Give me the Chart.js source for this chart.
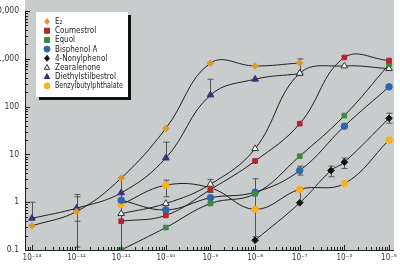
<!DOCTYPE html>
<html>
<head>
<meta charset="utf-8">
<script src="https://cdn.jsdelivr.net/npm/chart.js@4/dist/chart.umd.min.js"></script>
<style>
  html, body { margin: 0; padding: 0; background: #ffffff; }
  #wrap { width: 400px; height: 264px; }
</style>
</head>
<body>
<div id="wrap"><canvas id="chart" width="400" height="264"></canvas></div>
<script>
// concentrations (M) and responses
const concFull = [1e-11, 1e-10, 1e-9, 1e-8, 1e-7, 1e-6, 1e-5];
const concE2 = [1e-13, 1e-12, 1e-11, 1e-10, 1e-9, 1e-8, 1e-7];
const concNP = [1e-8, 1e-7, 5e-7, 1e-6, 1e-5];

const valE2 = [0.32, 0.64, 3.2, 35, 820, 710, 820];
const valDES = [0.46, 0.75, 1.57, 8.4, 175, 375, 490];
const valCoumestrol = [0.40, 0.53, 1.84, 7.3, 44, 1070, 925];
const valEquol = [0.1, 0.295, 0.94, 1.5, 9.2, 65, 770];
const valBPA = [1.1, 0.69, 1.24, 1.62, 4.6, 39, 260];
const valNP = [0.16, 0.97, 4.6, 6.9, 57];
const valZea = [0.575, 0.94, 2.38, 13.2, 500, 710, 625];
const valBBP = [0.9, 2.27, 2.0, 0.71, 1.86, 2.45, 20];

// error bars: position, low, high
const errX = [1e-13, 1e-12, 1e-12, 1e-11, 1e-10, 1e-10, 1e-9, 1e-9, 1e-8, 1e-7, 1e-7, 1e-7, 5e-7, 1e-6, 1e-5];
const errLow = [0.46, 0.115, 0.4, 0.1, 8.4, 1.3, 175, 1.6, 0.19, 500, 3.7, 1.0, 3.4, 5.1, 45];
const errHigh = [1.0, 1.46, 1.3, 3.2, 18, 2.9, 375, 3.0, 3.1, 1000, 5.7, 1.9, 5.7, 8.4, 73];

const xLabels = ['10\u207B\u00B9\u00B3', '10\u207B\u00B9\u00B2', '10\u207B\u00B9\u00B9', '10\u207B\u00B9\u2070', '10\u207B\u2079',
                 '10\u207B\u2078', '10\u207B\u2077', '10\u207B\u2076', '10\u207B\u2075'];
const xTicks = [1e-13, 1e-12, 1e-11, 1e-10, 1e-9, 1e-8, 1e-7, 1e-6, 1e-5];
const yTicks = [0.1, 1, 10, 100, 1000, 10000];
const yLabels = ['0.1', '1', '10', '100', '1,000', '10,000'];

const FONT = "'DejaVu Sans', sans-serif";
const LINE = '#1e1e1e';

function pts(xs, ys) {
    return xs.map((x, i) => ({ x: x, y: ys[i] }));
}

function series(label, xs, ys, style, fill, border) {
    return {
        label: label,
        data: pts(xs, ys),
        borderColor: LINE,
        borderWidth: 1,
        tension: 0.4,
        pointStyle: style,
        pointRadius: style === 'triangle' ? 3.8 : 3.3,
        pointBackgroundColor: fill,
        pointBorderColor: border || fill,
        pointBorderWidth: 1
    };
}

const datasets = [
    series('E\u2082', concE2, valE2, 'rectRot', '#d99a2b'),
    series('Coumestrol', concFull, valCoumestrol, 'rect', '#b3262b'),
    series('Equol', concFull, valEquol, 'rect', '#3b8a3b'),
    series('Bisphenol A', concFull, valBPA, 'circle', '#2c68ad'),
    series('4-Nonylphenol', concNP, valNP, 'rectRot', '#111111'),
    series('Zearalenone', concFull, valZea, 'triangle', '#ffffff', '#333333'),
    series('Diethylstilbestrol', concE2, valDES, 'triangle', '#3a2f78'),
    series('Benzylbutylphthalate', concFull, valBBP, 'circle', '#f4b122')
];

function drawMarker(ctx, style, x, y, r, fill, border) {
    ctx.save();
    ctx.fillStyle = fill;
    ctx.strokeStyle = border;
    ctx.lineWidth = 1;
    ctx.beginPath();
    if (style === 'circle') {
        ctx.arc(x, y, r, 0, Math.PI * 2);
    } else if (style === 'rect') {
        ctx.rect(x - r * 0.85, y - r * 0.85, r * 1.7, r * 1.7);
    } else if (style === 'rectRot') {
        ctx.moveTo(x, y - r); ctx.lineTo(x + r * 0.8, y); ctx.lineTo(x, y + r); ctx.lineTo(x - r * 0.8, y);
        ctx.closePath();
    } else if (style === 'triangle') {
        ctx.moveTo(x, y - r); ctx.lineTo(x + r * 0.9, y + r * 0.6); ctx.lineTo(x - r * 0.9, y + r * 0.6);
        ctx.closePath();
    }
    ctx.fill();
    ctx.stroke();
    ctx.restore();
}

const plotBackground = {
    id: 'plotBackground',
    beforeDraw(chart) {
        const a = chart.chartArea;
        const ctx = chart.ctx;
        ctx.save();
        ctx.fillStyle = '#c8cccd';
        ctx.fillRect(a.left, 0, a.right - a.left, a.bottom);
        ctx.restore();
    }
};

// inward log ticks on both axes
const logTicks = {
    id: 'logTicks',
    afterDraw(chart) {
        const ctx = chart.ctx;
        const a = chart.chartArea;
        const xs = chart.scales.x, ys = chart.scales.y;
        ctx.save();
        ctx.strokeStyle = '#222';
        ctx.lineWidth = 1;
        ctx.beginPath();
        for (let d = -14; d <= -4; d++) {
            for (let m = 1; m <= 9; m++) {
                const v = m * Math.pow(10, d);
                if (v < xs.min || v > xs.max) continue;
                const px = Math.round(xs.getPixelForValue(v)) + 0.5;
                const len = m === 1 ? 5 : 3;
                ctx.moveTo(px, a.bottom);
                ctx.lineTo(px, a.bottom - len);
            }
        }
        for (let d = -1; d <= 4; d++) {
            for (let m = 1; m <= 9; m++) {
                const v = m * Math.pow(10, d);
                if (v < ys.min || v > ys.max) continue;
                const py = Math.round(ys.getPixelForValue(v)) + 0.5;
                const len = m === 1 ? 5 : 3;
                ctx.moveTo(a.left, py);
                ctx.lineTo(a.left + len, py);
            }
        }
        ctx.stroke();
        ctx.restore();
    }
};

const errorBars = {
    id: 'errorBars',
    beforeDatasetsDraw(chart) {
        const ctx = chart.ctx;
        const xs = chart.scales.x, ys = chart.scales.y;
        ctx.save();
        ctx.strokeStyle = '#4d5556';
        ctx.lineWidth = 1;
        ctx.beginPath();
        errX.forEach((x, i) => {
            const px = Math.round(xs.getPixelForValue(x)) + 0.5;
            const y1 = ys.getPixelForValue(errLow[i]);
            const y2 = ys.getPixelForValue(errHigh[i]);
            ctx.moveTo(px, y1); ctx.lineTo(px, y2);
            ctx.moveTo(px - 3, y1); ctx.lineTo(px + 3, y1);
            ctx.moveTo(px - 3, y2); ctx.lineTo(px + 3, y2);
        });
        ctx.stroke();
        ctx.restore();
    }
};

const boxLegend = {
    id: 'boxLegend',
    afterDraw(chart) {
        const ctx = chart.ctx;
        const bx = 36, by = 12, bw = 92, bh = 85;
        const textX = bx + 19;
        const maxW = bw - 19 - 5;
        ctx.save();
        ctx.fillStyle = '#111';
        ctx.fillRect(bx + 3, by + 3, bw, bh);
        ctx.fillStyle = '#ffffff';
        ctx.fillRect(bx, by, bw, bh);
        ctx.font = 'condensed 8px ' + FONT;
        ctx.textBaseline = 'middle';
        ctx.textAlign = 'left';
        chart.data.datasets.forEach((ds, i) => {
            const y = by + 9.5 + i * 9.2;
            drawMarker(ctx, ds.pointStyle, bx + 11, y, 3, ds.pointBackgroundColor, ds.pointBorderColor);
            ctx.fillStyle = '#222';
            // keep the longest name inside the box
            const w = ctx.measureText(ds.label).width;
            ctx.save();
            ctx.translate(textX, y + 0.5);
            if (w > maxW) ctx.scale(maxW / w, 1);
            ctx.fillText(ds.label, 0, 0);
            ctx.restore();
        });
        ctx.restore();
    }
};

new Chart(document.getElementById('chart'), {
    type: 'line',
    data: { datasets: datasets },
    plugins: [plotBackground, errorBars, logTicks, boxLegend],
    options: {
        responsive: false,
        devicePixelRatio: 1,
        animation: false,
        layout: { padding: { top: 4, right: 2, left: 0, bottom: 0 } },
        plugins: {
            legend: { display: false },
            tooltip: { enabled: false }
        },
        scales: {
            x: {
                type: 'logarithmic',
                min: 7.0e-14,
                max: 1.29e-5,
                grid: { display: false, drawTicks: false },
                border: { display: true, color: '#222', width: 1 },
                afterBuildTicks(scale) {
                    scale.ticks = xTicks.map(v => ({ value: v }));
                },
                afterFit(scale) { scale.height = 14; },
                ticks: {
                    autoSkip: false,
                    maxRotation: 0,
                    padding: 3,
                    color: '#333',
                    font: { family: FONT, size: 8, weight: 'condensed' },
                    callback(v) {
                        const i = xTicks.findIndex(t => Math.abs(Math.log10(t) - Math.log10(v)) < 1e-6);
                        return i >= 0 ? xLabels[i] : '';
                    }
                }
            },
            y: {
                type: 'logarithmic',
                min: 0.1,
                max: 10000,
                grid: { display: false, drawTicks: false },
                border: { display: true, color: '#222', width: 1 },
                afterBuildTicks(scale) {
                    scale.ticks = yTicks.map(v => ({ value: v }));
                },
                afterFit(scale) { scale.width = 25; },
                ticks: {
                    autoSkip: false,
                    padding: 6,
                    color: '#333',
                    font: { family: FONT, size: 8.5, weight: 'condensed' },
                    callback(v) {
                        const i = yTicks.findIndex(t => Math.abs(Math.log10(t) - Math.log10(v)) < 1e-6);
                        return i >= 0 ? yLabels[i] : '';
                    }
                }
            }
        }
    }
});
</script>
</body>
</html>
